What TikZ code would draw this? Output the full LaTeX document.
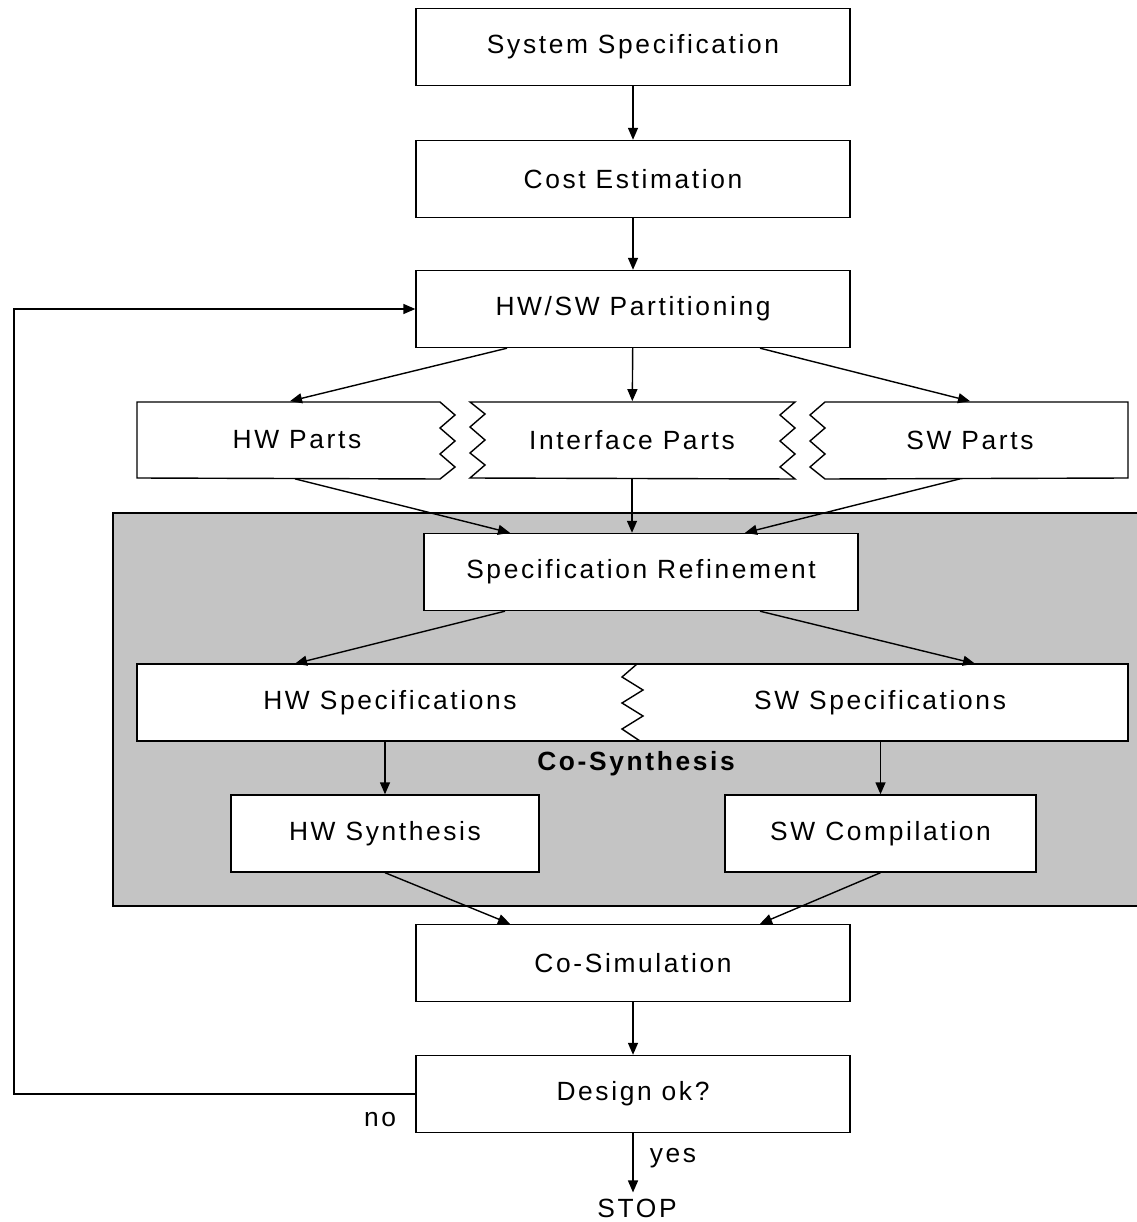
\documentclass[tikz,border=0pt]{standalone}
\usepackage{fontspec}
\setmainfont{Liberation Sans}[LetterSpace=10]
\usetikzlibrary{arrows.meta,calc}
\definecolor{synthgray}{RGB}{196,196,196}

\tikzstyle{block} = [rectangle, minimum width=8.68cm, minimum height=1.54cm, text centered, draw=black, fill=white, line width=0.8pt]
\tikzstyle{part} = [rectangle, minimum height=1.54cm, text centered, draw=none]
\tikzstyle{line} = [line width=0.8pt]
\tikzstyle{arrow} = [line width=0.8pt,-{Triangle[length=2.4mm,width=2mm]}]

\begin{document}
\begin{tikzpicture}[x=0.02cm,y=-0.02cm,font=\fontsize{15}{18}\selectfont]
			\useasboundingbox (0,0) rectangle (1136,1222);
			% co-synthesis area
			\draw [line, fill=synthgray] (113,513) rectangle (1160,906);
			\node (coSynthesis) [font=\fontsize{15}{18}\selectfont\bfseries] at (636,764) {Co-Synthesis};
			
			\node (sysSpec) [block] at (633,47) {System Specification};
			\node (costEst) [block] at (633,179) {Cost Estimation};
			\node (partitioning) [block] at (633,309) {HW/SW Partitioning};
			\node (hwParts) [part, minimum width=5.5cm] at (297,440) {};
			\node (ifParts) [part, minimum width=5.5cm] at (632,440) {};
			\node (swParts) [part, minimum width=5.5cm] at (970,440) {};
			\node (specRef) [block] at (641,572) {Specification Refinement};
			\node (hwswSpec) [block, minimum width=19.82cm] at (632.5,702.5) {};
			\node (hwSpec) [part, minimum width=7cm] at (390,702.5) {HW Specifications};
			\node (swSpec) [part, minimum width=7cm] at (880,702.5) {SW Specifications};
			\node (hwSynth) [block, minimum width=6.16cm] at (385,833.5) {HW Synthesis};
			\node (swComp) [block, minimum width=6.22cm] at (880.5,833.5) {SW Compilation};
			\node (coSim) [block] at (633,963) {Co-Simulation};
			\node (design) [block] at (633,1094) {Design ok?};
			\node (stop) at (637,1208) {STOP};
			\node (noLabel) at (380,1120) {no};
			\node (yesLabel) at (673,1158) {yes};
			\coordinate (loopCorner) at (14,1094);
			
			% parts with broken sides
			\draw [line, fill=white] (137,402) -- (440,402) -- ++(15,13) -- ++(-15,13) -- ++(15,13) -- ++(-15,13) -- ++(15,13) -- ++(-15,12) -- (137,478) -- cycle;
			\draw [line, fill=white] (470,402) -- (795,402) -- ++(-15,13) -- ++(15,13) -- ++(-15,13) -- ++(15,13) -- ++(-15,13) -- ++(15,12)
				-- (470,478) -- ++(15,-13) -- ++(-15,-12) -- ++(15,-13) -- ++(-15,-13) -- ++(15,-13) -- cycle;
			\draw [line, fill=white] (1128,402) -- (825,402) -- ++(-15,13) -- ++(15,13) -- ++(-15,13) -- ++(15,13) -- ++(-15,13) -- ++(15,12) -- (1128,478) -- cycle;
			\node (hwPartsText) at (hwParts) {HW Parts};
			\node (ifPartsText) at (ifParts) {Interface Parts};
			\node (swPartsText) at (swParts) {SW Parts};
			\draw [line] (637,664) -- ++(-15,13) -- ++(21,13) -- ++(-21,13) -- ++(21,13) -- ++(-21,13) -- ++(18,12);
			
			\draw [arrow] (sysSpec) -- (costEst);
			\draw [arrow] (costEst) -- (partitioning);
			\draw [arrow] ($(partitioning.south)+(-126,0)$) -- ($(hwParts.north)+(-7,0)$);
			\draw [arrow] (partitioning) -- (ifParts);
			\draw [arrow] ($(partitioning.south)+(127,0)$) -- (swParts.north);
			\draw [arrow] ($(hwParts.south)+(-2,0)$) -- ($(specRef.north)+(-131,0)$);
			\draw [arrow] (ifParts.south) -- (ifParts.south |- specRef.north);
			\draw [arrow] ($(swParts.south)+(-10,0)$) -- ($(specRef.north)+(104,0)$);
			\draw [arrow] ($(specRef.south)+(-136,0)$) -- ($(hwSpec.north)+(-95,0)$);
			\draw [arrow] ($(specRef.south)+(119,0)$) -- ($(swSpec.north)+(95,0)$);
			\draw [arrow] (hwSynth.north |- hwswSpec.south) -- (hwSynth.north);
			\draw [arrow] (swComp.north |- hwswSpec.south) -- (swComp.north);
			\draw [arrow] (hwSynth.south) -- ($(coSim.north)+(-123,0)$);
			\draw [arrow] (swComp.south) -- ($(coSim.north)+(127,0)$);
			\draw [arrow] (coSim) -- (design);
			\draw [arrow] (design.south) -- (design.south |- stop.north);
			\draw [arrow] (design.west) -- (loopCorner) |- (partitioning.west);
			
		\end{tikzpicture}
\end{document}
